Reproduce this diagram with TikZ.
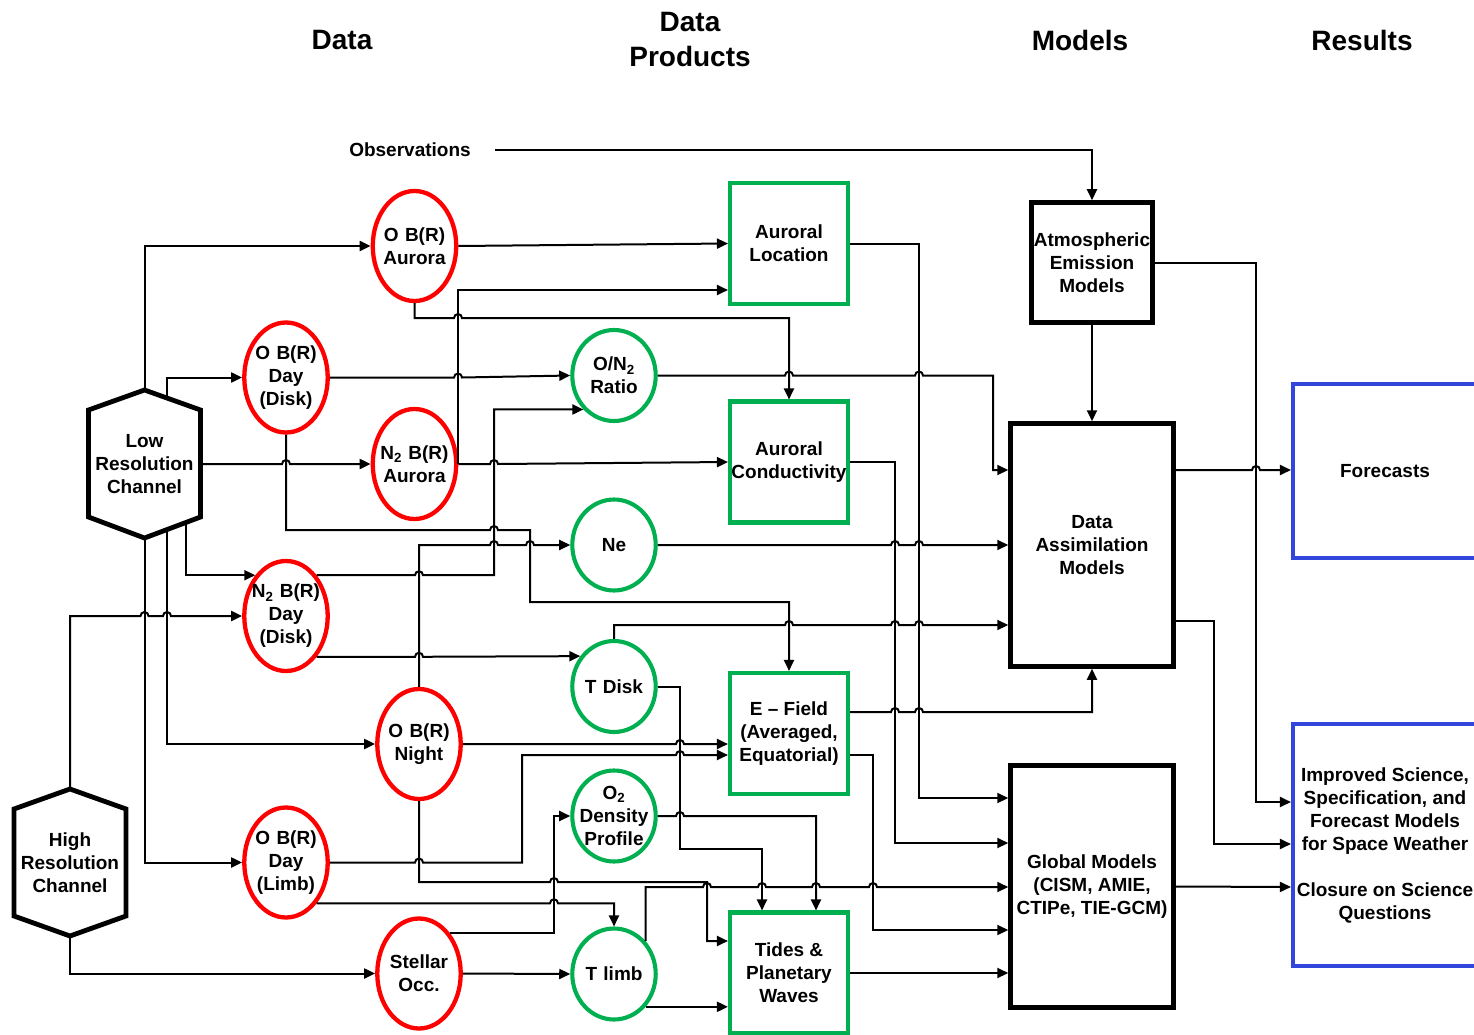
\documentclass[tikz,border=0pt]{standalone}
\usepackage{fontspec}
\setmainfont{Liberation Sans}
\usetikzlibrary{shapes.geometric,arrows.meta}
\definecolor{myred}{RGB}{255,0,0}
\definecolor{mygreen}{RGB}{0,176,80}
\definecolor{myblue}{RGB}{50,70,220}
\begin{document}
\begin{tikzpicture}[x=1pt,y=-1pt,
 base/.style={font=\bfseries\fontsize{19}{23}\selectfont,align=center},
 ttl/.style={font=\bfseries\fontsize{28}{35}\selectfont,align=center},
 redell/.style={base,ellipse,draw=myred,line width=4.3pt,text width=80pt,inner sep=0pt,inner xsep=-10.5pt,minimum height=110pt},
 grnell/.style={base,ellipse,draw=mygreen,line width=4.1pt,text width=80pt,inner sep=0pt,inner xsep=-10.5pt,minimum height=91pt},
 grnbox/.style={base,rectangle,draw=mygreen,line width=4.1pt,minimum width=118pt,minimum height=121pt,inner sep=0pt},
 blkbox/.style={base,rectangle,draw=black,line width=4.5pt,inner sep=0pt},
 bluebox/.style={base,rectangle,draw=myblue,line width=4.1pt,inner sep=0pt},
 hexline/.style={line width=4.8pt,line join=miter},
 conn/.style={line width=2pt,-{Triangle[length=11pt,width=10pt]}},
]
\useasboundingbox (0,0) rectangle (1474,1035);

% titles
\node[ttl] (t1) at (342,40) {Data};
\node[ttl] (t2) at (690,40) {Data\\Products};
\node[ttl] (t3) at (1080,40) {Models};
\node[ttl] (t4) at (1362,40) {Results};
\node[base] (obs) at (410,150) {Observations};
\coordinate (obsS) at (495,150);

% hexagons
\node[base] (lrc) at (144.5,464) {Low\\Resolution\\Channel};
\node[base] (hrc) at (70,862.5) {High\\Resolution\\Channel};
\coordinate (lrtop) at (144.5,390);
\coordinate (lrE) at (200.5,464);
\coordinate (lrbot) at (144.5,538);
\coordinate (lr1) at (167,398);
\coordinate (lr2) at (186,522.4);
\coordinate (lr3) at (167,529.6);
\coordinate (hrtop) at (70,789);
\coordinate (hrbot) at (70,936);

% red ellipses
\node[redell] (oba) at (414.5,246) {O B(R)\\Aurora};
\node[redell] (obd) at (286,377.5) {O B(R)\\Day\\(Disk)};
\node[redell] (nba) at (414.5,464) {N\textsubscript{2} B(R)\\Aurora};
\node[redell] (ndd) at (286,616) {N\textsubscript{2} B(R)\\Day\\(Disk)};
\node[redell] (obn) at (419,744) {O B(R)\\Night};
\node[redell] (obl) at (286,862.5) {O B(R)\\Day\\(Limb)};
\node[redell] (soc) at (419,973.5) {Stellar\\Occ.};

% green circles
\node[grnell] (on2) at (614,375.5) {O/N\textsubscript{2}\\Ratio};
\node[grnell] (ne) at (614,545) {Ne};
\node[grnell] (td) at (614,686.5) {T Disk};
\node[grnell] (o2d) at (614,816) {O\textsubscript{2}\\Density\\Profile};
\node[grnell] (tl) at (614,974) {T limb};

% green boxes
\node[grnbox] (al) at (789,243.5) {Auroral\\Location};
\node[grnbox] (ac) at (789,462) {Auroral\\Conductivity};
\node[grnbox] (ef) at (789,733.5) {E – Field\\(Averaged,\\Equatorial)};
\node[grnbox] (tpw) at (789,973) {Tides \&\\Planetary\\Waves};

% models
\node[blkbox,minimum width=121pt,minimum height=120pt] (aem) at (1092,262.5) {Atmospheric\\Emission\\Models};
\node[blkbox,minimum width=163pt,minimum height=243pt] (dam) at (1092,545) {Data\\Assimilation\\Models};
\node[blkbox,minimum width=163pt,minimum height=242pt] (gm) at (1092,886.5) {Global Models\\(CISM, AMIE,\\CTIPe, TIE-GCM)};

% results
\node[bluebox,minimum width=184pt,minimum height=174pt] (fc) at (1385,471) {Forecasts};
\node[bluebox,minimum width=184pt,minimum height=242pt] (isb) at (1385,845) {Improved Science,\\Specification, and\\Forecast Models\\for Space Weather\\[23pt]Closure on Science\\Questions};

% connectors
\draw[conn] (obsS) -| (aem.north);
\draw[conn] (lrtop) |- (oba.west);
\draw[conn] (lr1) |- (obd.west);
\draw[conn] (lrE) -- (282,464) arc[start angle=180,end angle=0,radius=4pt] -- (nba.west);
\draw[conn] (lr2) |- (ndd.127);
\draw[conn] (lr3) |- (obn.west);
\draw[conn] (lrbot) |- (obl.west);
\draw[conn] (hrtop) -- (70,616) -- (140.5,616) arc[start angle=180,end angle=0,radius=4pt] -- (163,616) arc[start angle=180,end angle=0,radius=4pt] -- (ndd.west);
\draw[conn] (hrbot) |- (soc.west);

\draw[conn] (oba.east) -- (al.west);
\draw[conn] (oba.south) -- (414.5,318) -- (454,318) arc[start angle=180,end angle=0,radius=4pt] -- (789,318) -- (ac.north);
\draw[conn] (nba.east) -- (490,464) arc[start angle=180,end angle=0,radius=4pt] -- (ac.west);
\draw[conn] (nba.east) -- (nba.east |- 0,290) -- (al.west |- 0,290);
\draw[conn] (obd.east) -- (454,377.5) arc[start angle=180,end angle=0,radius=4pt] -- (on2.west);
\draw[conn] (obd.south) -- (286,530) -- (490,530) arc[start angle=180,end angle=0,radius=4pt] -- (530,530) -- (530,602) -- (789,602) -- (ef.north);
\draw[conn] (ndd.53) -- (ndd.53 -| 415,0) arc[start angle=180,end angle=0,radius=4pt] -- (ndd.53 -| 494,0) |- (on2.228);
\draw[conn] (ndd.-53) -- (ndd.-53 -| 415,0) arc[start angle=180,end angle=0,radius=4pt] -- (td.138);
\draw[conn] (obn.north) -- (419,545) -- (490,545) arc[start angle=180,end angle=0,radius=4pt] -- (526,545) arc[start angle=180,end angle=0,radius=4pt] -- (ne.west);
\draw[conn] (obn.east) -- (676,744) arc[start angle=180,end angle=0,radius=4pt] -- (ef.west |- 0,744);
\draw[conn] (obn.south) -- (419,882) -- (550,882) arc[start angle=180,end angle=0,radius=4pt] -- (707,882) -- (707,941) -- (tpw.west |- 0,941);
\draw[conn] (obl.east) -- (415,862.5) arc[start angle=180,end angle=0,radius=4pt] -- (522,862.5) -- (522,755) -- (676,755) arc[start angle=180,end angle=0,radius=4pt] -- (ef.west |- 0,755);
\draw[conn] (obl.-53) -- (obl.-53 -| 550,0) arc[start angle=180,end angle=0,radius=4pt] -- (obl.-53 -| 614,0) -- (tl.north);
\draw[conn] (soc.53) -- (soc.53 -| 554,0) -- (554,816) -- (o2d.west);
\draw[conn] (soc.east) -- (tl.west);

\draw[conn] (on2.east) -- (785,375.5) arc[start angle=180,end angle=0,radius=4pt] -- (915,375.5) arc[start angle=180,end angle=0,radius=4pt] -- (993,375.5) -- (993,470) -- (dam.west |- 0,470);
\draw[conn] (al.east) -- (919,243.5) -- (919,798) -- (gm.west |- 0,798);
\draw[conn] (ac.east) -- (895,462) -- (895,843) -- (gm.west |- 0,843);
\draw[conn] (ne.east) -- (891,545) arc[start angle=180,end angle=0,radius=4pt] -- (915,545) arc[start angle=180,end angle=0,radius=4pt] -- (dam.west);
\draw[conn] (td.north) -- (614,625) -- (785,625) arc[start angle=180,end angle=0,radius=4pt] -- (891,625) arc[start angle=180,end angle=0,radius=4pt] -- (915,625) arc[start angle=180,end angle=0,radius=4pt] -- (dam.west |- 0,625);
\draw[conn] (td.east) -- (680,686.5) -- (680,849) -- (762,849) -- (tpw.north -| 762,0);
\draw[conn] (o2d.east) -- (676,816) arc[start angle=180,end angle=0,radius=4pt] -- (816,816) -- (tpw.north -| 816,0);
\draw[conn] (ef.east |- 0,712) -- (891,712) arc[start angle=180,end angle=0,radius=4pt] -- (915,712) arc[start angle=180,end angle=0,radius=4pt] -- (1092,712) -- (dam.south);
\draw[conn] (ef.east |- 0,755) -- (873,755) -- (873,930) -- (gm.west |- 0,930);
\draw[conn] (tl.46) -- (tl.46 |- 0,887) -- (703,887) arc[start angle=180,end angle=0,radius=4pt] -- (758,887) arc[start angle=180,end angle=0,radius=4pt] -- (812,887) arc[start angle=180,end angle=0,radius=4pt] -- (869,887) arc[start angle=180,end angle=0,radius=4pt] -- (gm.west |- 0,887);
\draw[conn] (tl.-46) -- (tl.-46 -| tpw.west);
\draw[conn] (tpw.east) -- (tpw.east -| gm.west);

\draw[conn] (aem.south) -- (dam.north);
\draw[conn] (aem.east) -- (1256,262.5) -- (1256,802) -- (isb.west |- 0,802);
\draw[conn] (dam.east |- 0,470) -- (1252,470) arc[start angle=180,end angle=0,radius=4pt] -- (fc.west |- 0,470);
\draw[conn] (dam.east |- 0,621) -- (1214,621) -- (1214,844) -- (isb.west |- 0,844);
\draw[conn] (gm.east) -- (isb.west |- 0,887);

% hexagon outlines
\draw[hexline] (144.5,390) -- (200.5,410) -- (200.5,517) -- (144.5,538) -- (88.5,517) -- (88.5,410) -- cycle;
\draw[hexline] (70,789) -- (126,809) -- (126,916) -- (70,936) -- (14,916) -- (14,809) -- cycle;
\end{tikzpicture}
\end{document}
